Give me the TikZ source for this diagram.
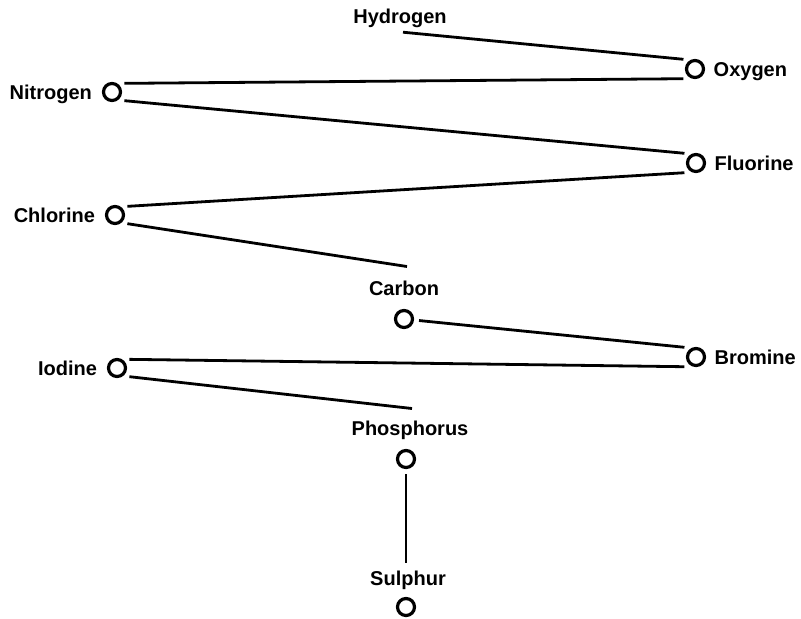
\documentclass[tikz,border=0pt]{standalone}
\usepackage{fontspec}
\setmainfont{Liberation Sans}
\usetikzlibrary{positioning}

\begin{document}
\begin{tikzpicture}[x=0.5pt,y=-0.5pt]

\tikzstyle{atom} = [draw, circle, line width=1.6pt, minimum size=8.5pt,
inner sep=0, outer sep=3.3pt]
\tikzstyle{elem} = [font=\fontsize{10}{12}\selectfont\bfseries, inner sep=0,
outer sep=0, text height=7.2pt, text depth=0pt]
\tikzstyle{bond} = [line width=1.4pt]

\useasboundingbox (0,0) rectangle (801,618);

\node [elem] (hydname) at (400,16) {Hydrogen};

\node [atom] (oxy) at (695,69) {};
\node [elem, right=1.8pt of oxy] (oxyname) {Oxygen};

\node [atom] (nit) at (112,92) {};
\node [elem, left=2.5pt of nit] (nitname) {Nitrogen};

\node [atom] (flu) at (696,163) {};
\node [elem, right=1.8pt of flu] (fluname) {Fluorine};

\node [atom] (chl) at (115,215) {};
\node [elem, left=2.5pt of chl] (chlname) {Chlorine};

\node [atom] (car) at (404,319) {};
\node [elem, above=4pt of car] (carname) {Carbon};

\node [atom] (bro) at (696,357) {};
\node [elem, right=1.8pt of bro] (broname) {Bromine};

\node [atom] (iod) at (117,368) {};
\node [elem, left=2.5pt of iod] (iodname) {Iodine};

\node [atom] (pho) at (406,459) {};
\node [elem, above=4pt of pho, xshift=2pt] (phoname) {Phosphorus};

\node [atom] (sul) at (406,607) {};
\node [elem, above=3pt of sul, xshift=1pt] (sulname) {Sulphur};


\draw [bond] ([yshift=-4.5pt,xshift=1.5pt]hydname.south) -- (oxy.140);

\draw [bond] (nit.35) -- (oxy.-140);
\draw [bond] (nit.-35) -- (flu.140);

\draw [bond] (chl.35) -- (flu.-140);
\draw [bond] (chl.-35) -- ([yshift=7.5pt,xshift=1.5pt]carname.north);

\draw [bond] (car) -- (bro.140);

\draw [bond] (iod.35) -- (bro.-140);
\draw [bond] (iod.-35) -- ([yshift=6.5pt,xshift=1pt]phoname.north);

\draw [bond] (pho) -- ([yshift=4.5pt,xshift=-1pt]sulname.north);

\end{tikzpicture}
\end{document}
